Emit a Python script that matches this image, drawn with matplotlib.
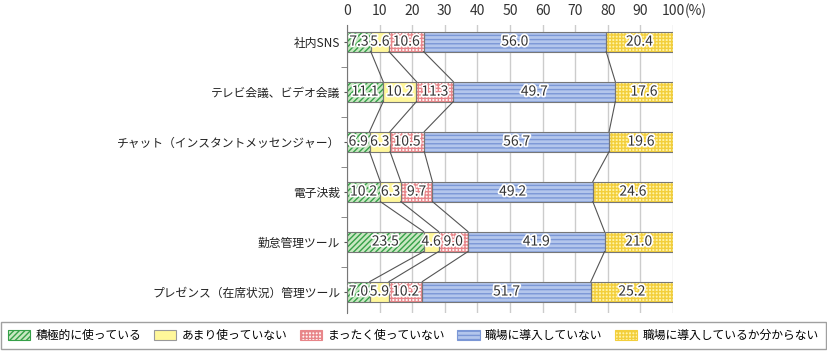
import matplotlib.pyplot as plt
import matplotlib.patheffects as pe
from matplotlib.patches import Patch
import numpy as np

plt.rcParams['font.family'] = ['Noto Sans CJK JP', 'DejaVu Sans']
plt.rcParams['hatch.linewidth'] = 1.0

categories = ['社内SNS', 'テレビ会議、ビデオ会議', 'チャット（インスタントメッセンジャー）',
              '電子決裁', '勤怠管理ツール', 'プレゼンス（在席状況）管理ツール']
series_names = ['積極的に使っている', 'あまり使っていない', 'まったく使っていない',
                '職場に導入していない', '職場に導入しているか分からない']
active = [7.3, 11.1, 6.9, 10.2, 23.5, 7.0]
rarely = [5.6, 10.2, 6.3, 6.3, 4.6, 5.9]
never = [10.6, 11.3, 10.5, 9.7, 9.0, 10.2]
not_introduced = [56.0, 49.7, 56.7, 49.2, 41.9, 51.7]
unknown = [20.4, 17.6, 19.6, 24.6, 21.0, 25.2]
data = [active, rarely, never, not_introduced, unknown]

faces = ['#c9e8c2', '#fff79a', '#fff4f4', '#b3c6ec', '#fff3a8']
hatch_colors = ['#35a048', '#fff79a', '#e8868a', '#7b97d6', '#f3cf3c']
hatches = ['//////', None, '+++++', '----', '+++++']

fig = plt.figure(figsize=(8.27, 3.59), dpi=100)
ax = fig.add_axes([0.4196, 0.128, 0.3942, 0.802])

y = np.arange(len(categories))
h = 0.4
left = np.zeros(len(categories))
for vals, fc, hc, ht in zip(data, faces, hatch_colors, hatches):
    vals = np.array(vals)
    ax.barh(y, vals, left=left, height=h, color=fc, edgecolor=hc, hatch=ht, linewidth=0, zorder=2)
    ax.barh(y, vals, left=left, height=h, fill=False, edgecolor='#777777', linewidth=0.8, zorder=3)
    for yi, l, v in zip(y, left, vals):
        ax.text(l + v / 2, yi, f'{v:.1f}', ha='center', va='center', fontsize=10, color='#333333',
                zorder=5, path_effects=[pe.withStroke(linewidth=2.5, foreground='white')])
    left = left + vals

# connector lines between bars
cum = np.cumsum(np.array(data[:4]), axis=0)
for i in range(len(categories) - 1):
    for k in range(4):
        ax.plot([cum[k][i], cum[k][i + 1]], [i + h / 2, i + 1 - h / 2], color='#555555', lw=0.8, zorder=4)

ax.set_xlim(0, 100)
ax.set_ylim(5.43, -0.33)
ax.xaxis.tick_top()
ax.set_xticks(range(0, 101, 10))
ax.tick_params(axis='x', length=0, pad=5, labelsize=10, colors='#333333')
ax.annotate('(%)', xy=(100, 1), xycoords=('data', 'axes fraction'), xytext=(8.5, 5),
            textcoords='offset points', ha='left', va='bottom', fontsize=10, color='#333333')
ax.set_yticks(y)
ax.set_yticklabels(categories)
ax.set_yticks(np.arange(0.5, 5.5, 1), minor=True)
ax.tick_params(axis='y', which='major', length=2, pad=3, labelsize=8.5, colors='#555555', labelcolor='#222222')
ax.tick_params(axis='y', which='minor', length=4, color='#777777')
ax.grid(axis='x', color='#cccccc', lw=1, zorder=0)
ax.set_axisbelow(True)
for s in ['top', 'right', 'bottom']:
    ax.spines[s].set_visible(False)
ax.spines['left'].set_color('#777777')

handles = [Patch(facecolor=fc, edgecolor=(hc if hc != '#fff79a' else '#999999'), hatch=ht, linewidth=0.8)
           for fc, hc, ht in zip(faces, hatch_colors, hatches)]
leg = fig.legend(handles, series_names, loc='center', bbox_to_anchor=(0.5, 0.065),
                 ncol=5, fontsize=8.5, frameon=True, fancybox=False,
                 handlelength=1.9, handleheight=1.0, handletextpad=0.45, columnspacing=1.05,
                 borderpad=0.6)
leg.get_frame().set_edgecolor('#888888')
leg.get_frame().set_linewidth(1)

fig.savefig('out.png', dpi=100)
